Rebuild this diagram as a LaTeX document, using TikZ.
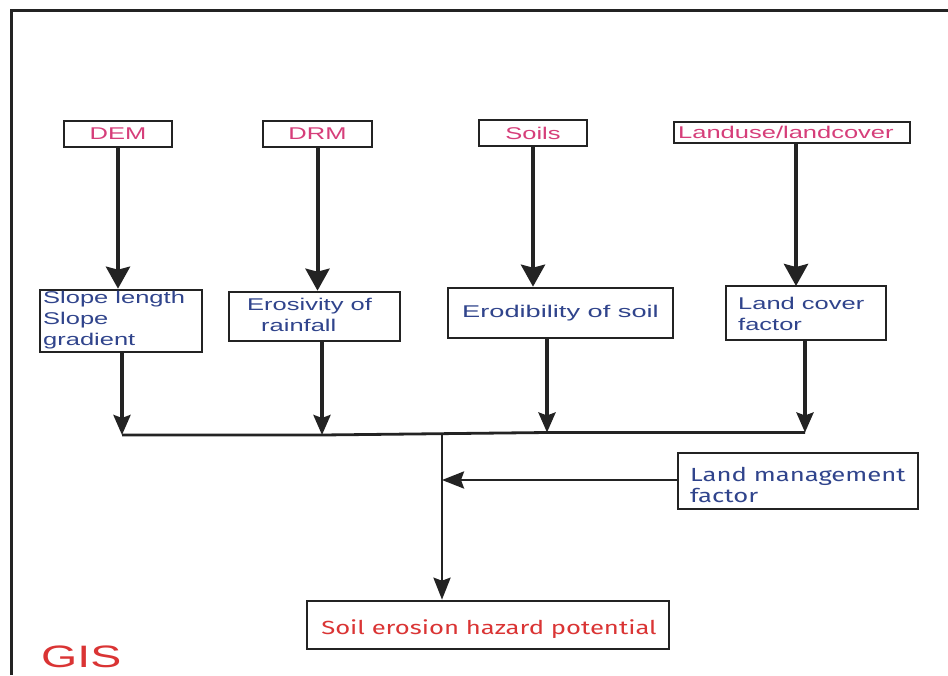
\documentclass[tikz,border=0pt]{standalone}
\usepackage{fontspec}
\usetikzlibrary{arrows.meta}
\newfontfamily\widesans[FakeStretch=1.5]{Liberation Sans}
\newfontfamily\widersans[FakeStretch=1.6]{Liberation Sans}
\newfontfamily\narrowsans[FakeStretch=1.35]{Fira Sans}
\definecolor{inkline}{RGB}{35,35,35}
\definecolor{srcpink}{RGB}{214,62,122}
\definecolor{factblue}{RGB}{48,68,140}
\definecolor{outred}{RGB}{218,52,52}
\tikzset{
  x=1pt, y=-1pt,
  srcbox/.style={draw=inkline, line width=2.6pt, inner sep=0pt,
    font=\widesans\fontsize{17}{21}\selectfont, text=srcpink},
  factbox/.style={draw=inkline, line width=2.6pt, inner sep=0pt,
    font=\widesans\fontsize{17}{21}\selectfont, text=factblue},
  label/.style={inner sep=0pt, anchor=west, align=left},
  bigarrow/.style={draw=inkline, line width=4pt,
    -{Stealth[length=22pt,width=24pt,inset=3pt]}},
  midarrow/.style={draw=inkline, line width=3.6pt,
    -{Stealth[length=20pt,width=17pt,inset=3pt]}},
  thinarrow/.style={draw=inkline, line width=2.8pt,
    -{Stealth[length=22pt,width=17pt,inset=3pt]}},
  busline/.style={draw=inkline, line width=2.8pt},
}
\begin{document}
\begin{tikzpicture}
\useasboundingbox (0,0) rectangle (948,675);
\fill[white] (0,0) rectangle (948,675);

% outer frame (only the top and left edges fall inside the page)
\draw[inkline, line width=3pt] (11,675) -- (11,10) -- (948,10);

% data sources
\node[srcbox, minimum width=108pt, minimum height=26pt] (dem) at (118,134) {DEM};
\node[srcbox, minimum width=109pt, minimum height=26pt] (drm) at (317.5,134) {DRM};
\node[srcbox, minimum width=108pt, minimum height=26pt] (soils) at (533,133) {Soils};
\node[srcbox, minimum width=236pt, minimum height=21pt] (lulc) at (792,132.5) {};
\node[label, text=srcpink, font=\widesans\fontsize{17}{21}\selectfont] (lulct) at (678,132.5) {Landuse/landcover};

% derived factors
\node[factbox, minimum width=162pt, minimum height=62pt] (slope) at (121,321) {};
\node[label, text=factblue, font=\widesans\fontsize{17}{21}\selectfont] (slopet) at (43,320) {Slope length\\Slope\\gradient};

\node[factbox, minimum width=171pt, minimum height=49pt] (eros) at (314.5,316.5) {};
\node[label, text=factblue, font=\widesans\fontsize{17}{21}\selectfont] (erost) at (247,314.5) {Erosivity of\\\hspace*{14pt}rainfall};

\node[factbox, minimum width=225pt, minimum height=50pt, font=\widersans\fontsize{17}{21}\selectfont] (erod) at (560.5,313) {Erodibility of soil};

\node[factbox, minimum width=160pt, minimum height=54pt] (lcf) at (806,313) {};
\node[label, text=factblue, font=\widesans\fontsize{17}{21}\selectfont] (lcft) at (738,313.5) {Land cover\\factor};

\node[factbox, minimum width=240pt, minimum height=56pt] (lmf) at (798,481) {};
\node[label, text=factblue, font=\narrowsans\fontsize{19}{21}\selectfont] (lmft) at (690,484.5) {Land management\\factor};

% result
\node[draw=inkline, line width=2.6pt, inner sep=0pt, minimum width=362pt, minimum height=48pt] (seh) at (488,625) {};
\node[inner sep=0pt, text=outred, font=\narrowsans\fontsize{19}{21}\selectfont] (seht) at (489,629) {Soil erosion hazard potential};

\node[label, text=outred, font=\widesans\fontsize{31}{36}\selectfont] (gis) at (41,657) {GIS};

% sources to factors
\draw[bigarrow] (dem.south) -- (dem.south |- slope.north);
\draw[bigarrow] (drm.south) -- (drm.south |- eros.north);
\draw[bigarrow] (soils.south) -- (soils.south |- erod.north);
\draw[bigarrow] (796,143) -- (796,286);

% factors to the collecting line
\coordinate (b1) at (122,435);
\coordinate (b2) at (322,435);
\coordinate (b3) at (547,432.5);
\coordinate (b4) at (805,432.5);
\coordinate (hub) at (442,434);
\coordinate (lmin) at (442,480);
\draw[midarrow] (b1 |- slope.south) -- (b1);
\draw[midarrow] (b2 |- eros.south) -- (b2);
\draw[midarrow] (b3 |- erod.south) -- (b3);
\draw[midarrow] (b4 |- lcf.south) -- (b4);
\draw[busline] (b1) -- (b2) -- (b3) -- (b4);

% combination to the result
\draw[thinarrow] (hub) -- (hub |- seh.north);
\draw[thinarrow] (lmf.west |- lmin) -- (lmin);
\end{tikzpicture}
\end{document}
